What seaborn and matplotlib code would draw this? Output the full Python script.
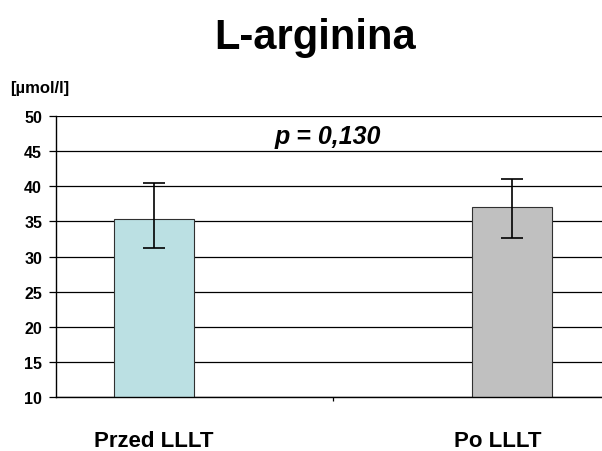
import matplotlib
matplotlib.use("Agg")
import matplotlib.pyplot as plt
import matplotlib.transforms as mtransforms
import seaborn as sns
import pandas as pd
import numpy as np

categories = ["Przed LLLT", "Po LLLT"]
means = [35.4, 37.1]
err_low = [4.15, 4.4]
err_high = [5.0, 3.95]
colors = ["#BBE0E3", "#C0C0C0"]
yticks = [10, 15, 20, 25, 30, 35, 40, 45, 50]
title = "L-arginina"
unit = "[µmol/l]"
ptext = "p = 0,130"

sns.set_style("white")
plt.rcParams["font.family"] = ["Liberation Sans", "DejaVu Sans"]
plt.rcParams["font.weight"] = "bold"
plt.rcParams["text.color"] = "black"
plt.rcParams["xtick.color"] = "black"
plt.rcParams["ytick.color"] = "black"
plt.rcParams["xtick.labelcolor"] = "black"
plt.rcParams["ytick.labelcolor"] = "black"

df = pd.DataFrame({"cat": categories, "val": means})

fig = plt.figure(figsize=(6.02, 4.52), dpi=100)
ax = fig.add_axes([56 / 602, 1 - 398 / 452, 1 - 56 / 602, (398 - 117) / 452])

for y in yticks:
    ax.axhline(y, color="black", lw=0.9, zorder=0)

sns.barplot(data=df, x="cat", y="val", hue="cat", palette=colors, dodge=False,
            legend=False, width=0.2235, edgecolor="#303030", linewidth=0.8,
            saturation=1, errorbar=None, ax=ax, zorder=2)

xpos = np.arange(len(categories))
ax.errorbar(xpos, means, yerr=[err_low, err_high], fmt="none", ecolor="black",
            elinewidth=1.2, capsize=8, capthick=1.2, zorder=3)

ax.set_ylim(10, 50)
ax.set_xlim(-0.274, 1.251)
ax.set_yticks(yticks)
ax.set_yticklabels([str(v) for v in yticks], fontsize=11.5, fontweight="bold", color="black")
ax.tick_params(axis="y", direction="out", length=5, width=0.9, pad=5, color="black", left=True)

ax.set_xticks(xpos)
ax.set_xticklabels(categories, fontsize=16, fontweight="bold", color="black")
ax.tick_params(axis="x", which="major", length=0, pad=24)
ax.set_xticks([0.5], minor=True)
ax.tick_params(axis="x", which="minor", direction="out", length=3, width=0.9, color="black", bottom=True)

lbls = ax.get_xticklabels()
lbls[1].set_transform(lbls[1].get_transform() + mtransforms.ScaledTranslation(-14 / 100, 0, fig.dpi_scale_trans))

ax.set_xlabel("")
ax.set_ylabel("")
for s in ["top", "right"]:
    ax.spines[s].set_visible(False)
for s in ["left", "bottom"]:
    ax.spines[s].set_color("black")
    ax.spines[s].set_linewidth(1.0)

ax.text(0.486, 47.2, ptext, fontsize=18, fontweight="bold", fontstyle="italic",
        ha="center", va="center", color="black")

fig.text(315 / 602, 1 - 38 / 452, title, fontsize=30, fontweight="bold", ha="center", va="center", color="black")
fig.text(10 / 602, 1 - 88 / 452, unit, fontsize=12, fontweight="bold", ha="left", va="center", color="black")

fig.savefig("out.png", dpi=100)
